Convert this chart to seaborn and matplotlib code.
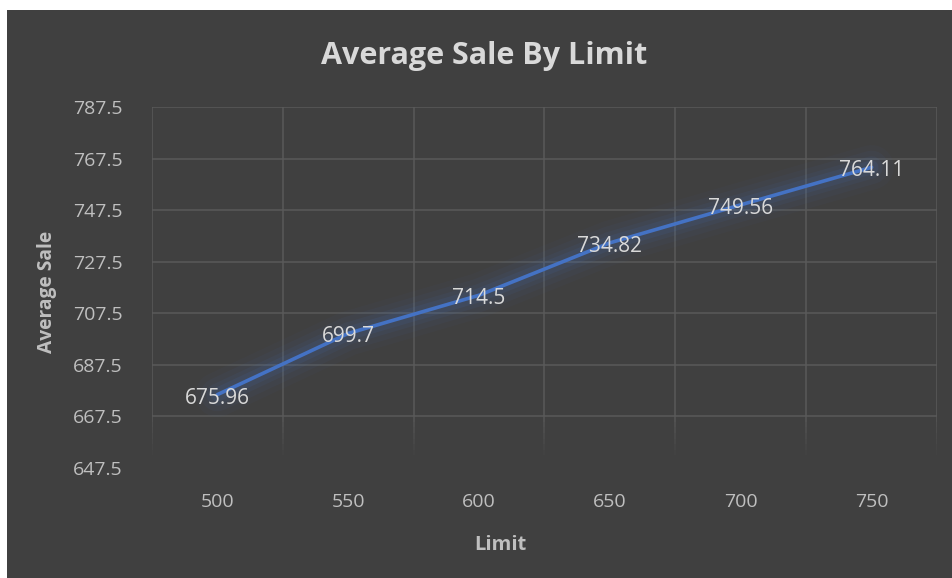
import matplotlib
matplotlib.use("Agg")
import matplotlib.pyplot as plt
from matplotlib.patches import Rectangle
import seaborn as sns
import pandas as pd
import numpy as np

# Chart data
limits = ["500", "550", "600", "650", "700", "750"]
avg_sale = [675.96, 699.7, 714.5, 734.82, 749.56, 764.11]
y_ticks = [647.5, 667.5, 687.5, 707.5, 727.5, 747.5, 767.5, 787.5]

df = pd.DataFrame({"Limit": limits, "Average Sale": avg_sale})
df["pos"] = np.arange(len(limits))

sns.set_theme(style="dark")
plt.rcParams["font.family"] = ["Open Sans", "DejaVu Sans"]

W, H = 952, 578
bg = "#404040"
fig = plt.figure(figsize=(W / 100, H / 100), dpi=100)
fig.patch.set_facecolor(bg)

# thin white margin on the top and left of the dark panel
fig.patches.append(Rectangle((0, 1 - 10 / H), 1, 10 / H, transform=fig.transFigure,
                             facecolor="white", edgecolor="none", zorder=-1))
fig.patches.append(Rectangle((0, 0), 7 / W, 1, transform=fig.transFigure,
                             facecolor="white", edgecolor="none", zorder=-1))

left, right, top, bottom = 152, 937, 107, 468
ax = fig.add_axes([left / W, 1 - bottom / H, (right - left) / W, (bottom - top) / H])
ax.set_facecolor(bg)

line_col = "#4472C4"
# soft glow around the series
for lw, a in [(32, 0.035), (24, 0.05), (16, 0.07), (10, 0.1)]:
    sns.lineplot(data=df, x="pos", y="Average Sale", ax=ax, color=line_col,
                 linewidth=lw, alpha=a, legend=False, zorder=2)
sns.lineplot(data=df, x="pos", y="Average Sale", ax=ax, color=line_col,
             linewidth=2.6, legend=False, zorder=3)

for x, y in zip(df["pos"], df["Average Sale"]):
    ax.annotate(f"{y:g}", (x, y), xytext=(0, -2.5), textcoords="offset points",
                ha="center", va="center", color="#d9d9d9", fontsize=15, zorder=4)

ax.set_xlim(-0.5, len(limits) - 0.5)
ax.set_ylim(y_ticks[0], y_ticks[-1])
ax.set_xticks(df["pos"])
ax.set_xticklabels(limits)
ax.set_yticks(y_ticks)
ax.set_yticklabels([f"{v:.1f}" for v in y_ticks])

grid_col = "#5a5a5a"
ax.grid(False)
for v in y_ticks[1:]:
    ax.axhline(v, color=grid_col, linewidth=1.1, zorder=1)
# vertical gridlines, fading out just above the lowest tick
fade_top, fade_bottom = y_ticks[1], y_ticks[0] + 5
steps = np.linspace(fade_top, fade_bottom, 8)
for v in np.arange(-0.5, len(limits), 1.0):
    ax.vlines(v, fade_top, y_ticks[-1], color=grid_col, linewidth=1.1, zorder=1)
    for i in range(len(steps) - 1):
        ax.vlines(v, steps[i + 1], steps[i], color=grid_col, linewidth=1.1,
                  alpha=1 - (i + 1) / len(steps), zorder=1)

for s in ax.spines.values():
    s.set_visible(False)

ax.tick_params(axis="both", which="both", length=0, colors="#bfbfbf", labelsize=14)
ax.tick_params(axis="y", pad=21)
ax.tick_params(axis="x", pad=18)

ax.set_xlabel("")
ax.set_ylabel("")
fig.text(500 / W, 1 - 545 / H, "Limit", ha="center", va="center",
         color="#bfbfbf", fontsize=14.5, fontweight="bold")
fig.text(47 / W, 1 - 292 / H, "Average Sale", ha="center", va="center",
         rotation=90, color="#bfbfbf", fontsize=13.8, fontweight="bold")
fig.text(484 / W, 1 - 56 / H, "Average Sale By Limit", ha="center", va="center",
         color="#d9d9d9", fontsize=22, fontweight="bold")

fig.savefig("out.png", dpi=100, facecolor=fig.get_facecolor())
